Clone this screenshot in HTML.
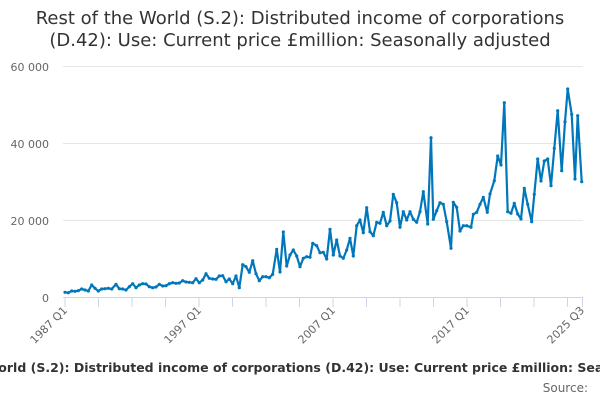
<!DOCTYPE html>
<html><head><meta charset="utf-8"><style>
html,body{margin:0;padding:0;background:#fff;width:600px;height:400px;overflow:hidden}
svg{display:block;font-family:"DejaVu Sans","Liberation Sans",sans-serif}
</style></head><body>
<svg id="s" width="600" height="400" viewBox="0 0 600 400">
<text x="300" y="24" font-size="18" fill="#333" text-anchor="middle">Rest of the World (S.2): Distributed income of corporations</text>
<text x="300" y="46" font-size="18" fill="#333" text-anchor="middle">(D.42): Use: Current price £million: Seasonally adjusted</text>
<g stroke="#e6e6e6" stroke-width="1">
<line x1="63" y1="66.5" x2="583" y2="66.5"/>
<line x1="63" y1="143.5" x2="583" y2="143.5"/>
<line x1="63" y1="220.5" x2="583" y2="220.5"/>
</g>
<g font-size="11" fill="#666" text-anchor="end">
<text x="49" y="71">60 000</text>
<text x="49" y="148">40 000</text>
<text x="49" y="225">20 000</text>
<text x="49" y="302">0</text>
</g>
<line x1="63" y1="297.5" x2="583" y2="297.5" stroke="#ccd6eb" stroke-width="1"/>
<g id="ticks" stroke="#ccd6eb" stroke-width="1"></g>
<g font-size="11" fill="#666" text-anchor="end">
<text transform="translate(68,311) rotate(-45)">1987 Q1</text>
<text transform="translate(202,311) rotate(-45)">1997 Q1</text>
<text transform="translate(336,311) rotate(-45)">2007 Q1</text>
<text transform="translate(470,311) rotate(-45)">2017 Q1</text>
<text transform="translate(585,311) rotate(-45)">2025 Q3</text>
</g>
<path id="line" fill="none" stroke="#0077bb" stroke-width="2.2" stroke-linejoin="round"/>
<g id="dots" fill="#0077bb"></g>
<text x="-97" y="372" font-size="12.5" font-weight="bold" fill="#333">Rest of the World (S.2): Distributed income of corporations (D.42): Use: Current price £million: Seasonally adjusted</text>
<text x="588" y="392" font-size="12" fill="#666" text-anchor="end">Source:</text>
</svg>
<script>
var z1=[[75,157],[85,158],[95,153],[105,154],[115,152],[125,147],[135,150],[145,153],[155,135],[165,145],[175,153],[185,147],[195,146],[205,145],[215,147],[228,133],[238,146],[248,147],[258,150],[268,140],[278,131],[288,143],[298,135],[308,131],[318,132],[328,140],[338,143],[348,141],[358,133],[368,138],[378,137],[388,131],[398,128],[408,130],[418,129],[428,122],[438,126],[448,127],[458,128],[468,116],[478,128],[488,120],[498,101],[508,115],[518,117],[528,118],[538,108],[548,107],[558,125],[568,117],[578,131],[588,108],[598,143],[608,74],[618,80],[628,97],[638,62],[648,101],[658,122],[668,110],[678,110],[688,113],[698,103],[710,28],[720,96],[730,-24],[740,78],[750,45],[760,30],[770,48]];
var p=z1.map(function(a){return [40+a[0]/3,240+a[1]/3];});
var z2=[[0,560],[10,535],[20,530],[30,532],[38,490],[50,497],[60,518],[70,517],[80,537],[90,448],[100,525],[110,480],[120,528],[130,535],[140,510],[150,475],[160,528],[170,437],[180,420],[190,458],[200,383],[210,455],[220,467],[230,427],[240,430],[250,397],[260,437],[270,423],[280,343],[290,368],[300,442],[310,395],[320,420],[330,395],[340,418],[350,427],[360,395],[370,335],[383,432],[393,173],[400,418],[410,392],[420,368],[430,373],[440,425],[453,505],[460,367],[470,382],[480,453],[490,437],[500,437],[513,442],[520,403],[530,397],[540,373],[550,352],[562,397],[570,342],[583,302],[593,228],[603,255],[613,68],[623,395],[633,400],[643,370],[653,402],[663,417],[673,325],[683,373],[695,425],[703,343],[713,237],[723,303],[733,243],[743,237],[753,317],[763,205],[773,92],[785,272],[795,125],[803,27],[815,103],[825,297],[833,107],[845,305]];
z2.forEach(function(a){p.push([300+a[0]/3,80+a[1]/3]);});
var d="",dots="";
p.forEach(function(q,i){d+=(i?"L":"M")+q[0].toFixed(1)+" "+q[1].toFixed(1);dots+='<circle cx="'+q[0].toFixed(1)+'" cy="'+q[1].toFixed(1)+'" r="1.6"/>';});
document.getElementById("line").setAttribute("d",d);
document.getElementById("dots").innerHTML=dots;
var t="";for(var i=0;i<=15;i++){var x=65+i*33.5;if(x>584)x=582.5;t+='<line x1="'+x+'" y1="297" x2="'+x+'" y2="307"/>';}
t+='<line x1="582.5" y1="297" x2="582.5" y2="307"/>';
document.getElementById("ticks").innerHTML=t;
</script>
</body></html>
